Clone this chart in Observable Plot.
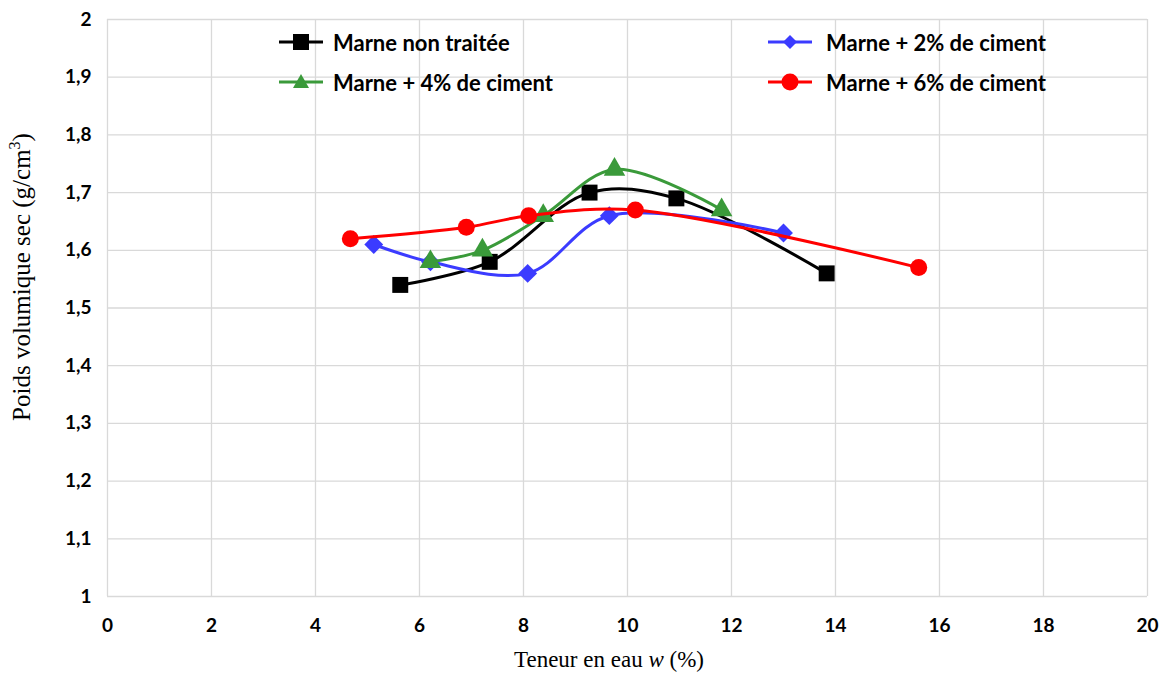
<!DOCTYPE html>
<html><head><meta charset="utf-8">
<script src="https://cdn.jsdelivr.net/npm/d3@7"></script>
<script src="https://cdn.jsdelivr.net/npm/@observablehq/plot@0.6"></script>
<style>
body{margin:0;background:#fff;}
#wrap{position:relative;width:1169px;height:673px;overflow:hidden;}
.leg{position:absolute;display:flex;align-items:center;font:bold 22px Lato, sans-serif;color:#000;white-space:nowrap;}
</style></head><body><div id="wrap"></div>
<script>
const seriesNames = ["Marne non traitée", "Marne + 2% de ciment", "Marne + 4% de ciment", "Marne + 6% de ciment"];
const seriesColors = ["#000000", "#3b3bff", "#3a9a3a", "#ff0000"];
const seriesSymbols = ["square", "diamond2", "triangle", "circle"];
const seriesRadius = [9, 8.5, 8, 8.5];

const wNonTraitee = [5.63, 7.35, 9.27, 10.94, 13.83];
const dNonTraitee = [1.54, 1.58, 1.70, 1.69, 1.56];
const wCiment2 = [5.12, 6.21, 8.08, 9.65, 13.0];
const dCiment2 = [1.61, 1.58, 1.56, 1.66, 1.63];
const wCiment4 = [6.21, 7.21, 8.38, 9.75, 11.81];
const dCiment4 = [1.58, 1.60, 1.66, 1.74, 1.67];
const wCiment6 = [4.67, 6.90, 8.10, 10.15, 15.60];
const dCiment6 = [1.62, 1.64, 1.66, 1.67, 1.57];

const xTicks = [0, 2, 4, 6, 8, 10, 12, 14, 16, 18, 20];
const yTicks = [1, 1.1, 1.2, 1.3, 1.4, 1.5, 1.6, 1.7, 1.8, 1.9, 2];

const wAll = [wNonTraitee, wCiment2, wCiment4, wCiment6];
const dAll = [dNonTraitee, dCiment2, dCiment4, dCiment6];
const rows = [];
wAll.forEach((ws, s) => ws.forEach((w, i) => rows.push({serie: s, w, d: dAll[s][i]})));

const marks = [
  Plot.gridX(xTicks, {stroke: "#d9d9d9", strokeOpacity: 1, strokeWidth: 1.3}),
  Plot.gridY(yTicks, {stroke: "#d9d9d9", strokeOpacity: 1, strokeWidth: 1.3}),
  Plot.axisX(xTicks, {tickSize: 0, tickPadding: 22, fontSize: 19, fontWeight: "bold", label: null}),
  Plot.axisY(yTicks, {tickSize: 0, tickPadding: 16, fontSize: 19, fontWeight: "bold", label: null,
    tickFormat: d => String(+d.toFixed(1)).replace(".", ",")})
];
for (let s = 0; s < 4; s++) {
  const data = rows.filter(r => r.serie === s);
  marks.push(Plot.line(data, {x: "w", y: "d", stroke: seriesColors[s], strokeWidth: 3, curve: "catmull-rom"}));
  marks.push(Plot.dot(data, {x: "w", y: "d", fill: seriesColors[s], stroke: "none", symbol: seriesSymbols[s], r: seriesRadius[s]}));
}

const chart = Plot.plot({
  width: 1169, height: 673,
  marginLeft: 107, marginRight: 22, marginTop: 19, marginBottom: 77,
  x: {domain: [0, 20]},
  y: {domain: [1, 2]},
  style: {fontFamily: "Lato, sans-serif", background: "#fff", color: "#000"},
  marks
});
const svg = d3.select(chart);
svg.append("text").attr("x", 609).attr("y", 667).attr("text-anchor", "middle")
  .attr("font-family", "'Liberation Serif', serif").attr("font-size", 23).attr("fill", "#000")
  .call(t => { t.append("tspan").text("Teneur en eau "); t.append("tspan").attr("font-style", "italic").text("w"); t.append("tspan").text(" (%)"); });
svg.append("text").attr("transform", "translate(30,277) rotate(-90)").attr("text-anchor", "middle")
  .attr("font-family", "'Liberation Serif', serif").attr("font-size", 25).attr("fill", "#000")
  .call(t => { t.append("tspan").text("Poids volumique sec (g/cm"); t.append("tspan").attr("font-size", 16).attr("dy", -10).text("3"); t.append("tspan").attr("dy", 10).text(")"); });

const wrap = document.getElementById("wrap");
wrap.appendChild(chart);

const legPos = [[279, 42, 10], [768, 42, 14], [279, 82, 10], [768, 82, 14]];
const symPaths = {
  square: '<rect x="14" y="-8" width="16" height="16"/>',
  diamond2: '<path d="M22,-7 L29,0 L22,7 L15,0 Z"/>',
  triangle: '<path d="M22,-8 L30,6 L14,6 Z"/>',
  circle: '<circle cx="22" cy="0" r="8.5"/>'
};
seriesNames.forEach((name, s) => {
  const div = document.createElement("div");
  div.className = "leg";
  div.style.left = legPos[s][0] + "px";
  div.style.top = (legPos[s][1] - 14) + "px";
  div.style.height = "28px";
  const c = seriesColors[s];
  div.innerHTML = `<svg width="44" height="24" viewBox="0 -12 44 24" style="margin-right:${legPos[s][2]}px"><line x1="0" x2="44" y1="0" y2="0" stroke="${c}" stroke-width="3"/><g fill="${c}">${symPaths[seriesSymbols[s]]}</g></svg><span>${name}</span>`;
  wrap.appendChild(div);
});
</script></body></html>
